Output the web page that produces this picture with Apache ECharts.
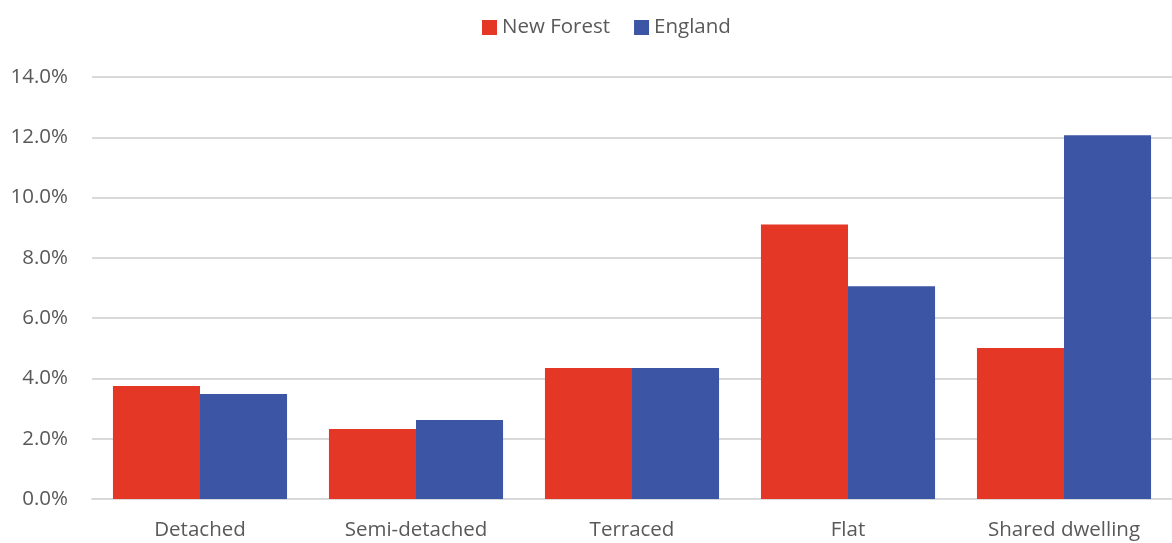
<!DOCTYPE html>
<html><head><meta charset="utf-8">
<script src="https://cdn.jsdelivr.net/npm/echarts@6/dist/echarts.min.js"></script>
<style>html,body{margin:0;padding:0;background:#fff}#c{width:1172px;height:543px}</style>
</head><body><div id="c"></div>
<script>
const categories = ['Detached', 'Semi-detached', 'Terraced', 'Flat', 'Shared dwelling'];
const newForest = [3.75, 2.32, 4.35, 9.11, 5.01];
const england = [3.48, 2.62, 4.35, 7.06, 12.07];
const seriesNames = ['New Forest', 'England'];
const font = 'Open Sans';
const chart = echarts.init(document.getElementById('c'));
chart.setOption({
  animation: false,
  textStyle: {fontFamily: font},
  legend: {
    top: 12, left: 477, itemWidth: 15, itemHeight: 15, itemGap: 24,
    icon: 'rect',
    textStyle: {fontSize: 20.5, color: '#595959', fontFamily: font}
  },
  grid: {left: 92, right: 0, top: 77, bottom: 44, containLabel: false},
  xAxis: {
    type: 'category', data: categories,
    axisLine: {show: true, lineStyle: {color: '#d9d9d9', width: 2}},
    axisTick: {show: false},
    axisLabel: {fontSize: 20.5, color: '#595959', margin: 21, fontFamily: font}
  },
  yAxis: {
    type: 'value', min: 0, max: 14, interval: 2,
    axisLine: {show: false}, axisTick: {show: false},
    splitLine: {lineStyle: {color: '#d9d9d9', width: 2}},
    axisLabel: {fontSize: 20.5, color: '#595959', margin: 24, fontFamily: font,
      formatter: v => v.toFixed(1) + '%'}
  },
  series: [
    {name: seriesNames[0], type: 'bar', data: newForest, barGap: '0%', barCategoryGap: '19.4%',
     itemStyle: {color: '#E43726'}},
    {name: seriesNames[1], type: 'bar', data: england,
     itemStyle: {color: '#3C56A5'}}
  ]
});
</script></body></html>
